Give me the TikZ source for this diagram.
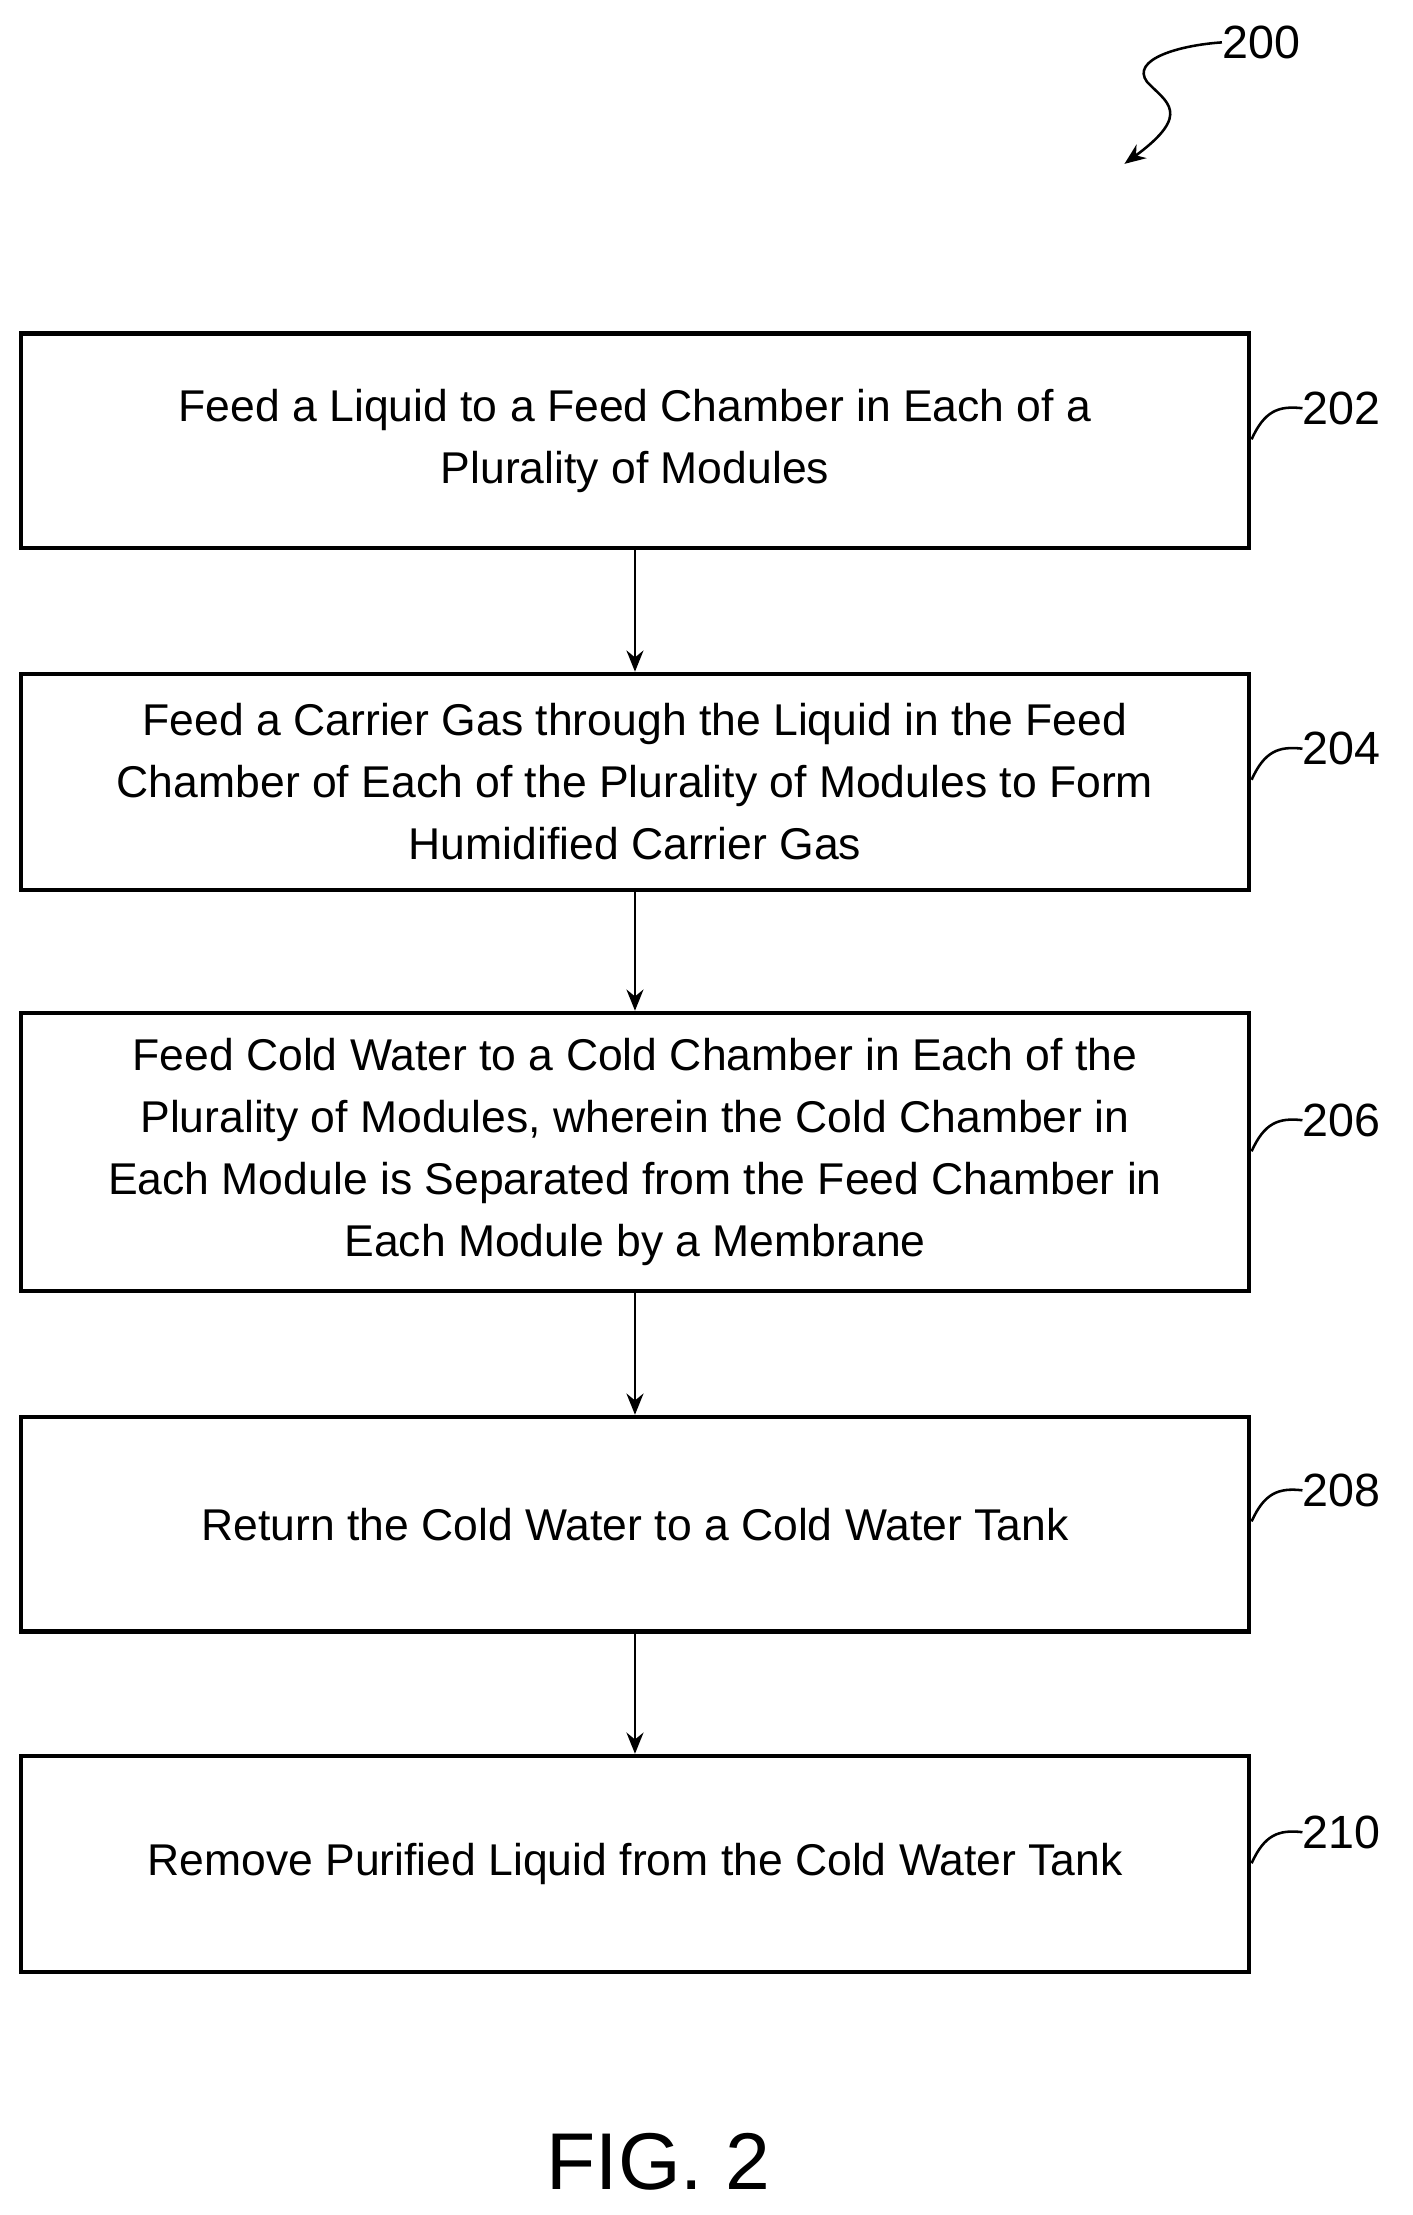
\documentclass[tikz,border=0pt]{standalone}
\usepackage{fontspec}
\setmainfont{Liberation Sans}
\usetikzlibrary{arrows.meta}
\begin{document}
\begin{tikzpicture}[x=1pt,y=-1pt,
  stepbox/.style={draw,line width=3pt,minimum width=869pt,inner sep=0pt,align=center,font=\fontsize{31.5}{44}\selectfont},
  flow/.style={line width=2pt,-{Stealth[length=15pt,width=12pt]}},
  lead/.style={line width=1.8pt},
  lbl/.style={font=\fontsize{33}{38}\selectfont,anchor=west,inner sep=0pt}]
\useasboundingbox (0,0) rectangle (1000,1568);
\node[stepbox,minimum height=152pt] (b1) at (449.5,312) {Feed a Liquid to a Feed Chamber in Each of a\\Plurality of Modules};
\node[stepbox,minimum height=153pt] (b2) at (449.5,553.5) {Feed a Carrier Gas through the Liquid in the Feed\\Chamber of Each of the Plurality of Modules to Form\\Humidified Carrier Gas};
\node[stepbox,minimum height=197pt] (b3) at (449.5,815.5) {Feed Cold Water to a Cold Chamber in Each of the\\Plurality of Modules, wherein the Cold Chamber in\\Each Module is Separated from the Feed Chamber in\\Each Module by a Membrane};
\node[stepbox,minimum height=152pt] (b4) at (449.5,1079) {Return the Cold Water to a Cold Water Tank};
\node[stepbox,minimum height=153pt] (b5) at (449.5,1319.5) {Remove Purified Liquid from the Cold Water Tank};
\draw[flow] (b1) -- (b2);
\draw[flow] (b2) -- (b3);
\draw[flow] (b3) -- (b4);
\draw[flow] (b4) -- (b5);
\foreach \b/\y/\t in {b1/289/202,b2/530/204,b3/793/206,b4/1055/208,b5/1297/210}{
  \node[lbl] (l\t) at (922,\y) {\t};
  \coordinate (s\t) at (886,\y+22);
  \draw[lead] (s\t) .. controls (895,\y+2) and (905,\y-2) .. (l\t.west);
}
\node[lbl] (l200) at (865,30) {200};
\coordinate (e200) at (796,116);
\draw[lead,-{Stealth[length=15pt,width=12pt]}] (l200.west) .. controls (835,32) and (800,42) .. (812,58)
  .. controls (825,72) and (845,80) .. (e200);
\node[font=\fontsize{57}{64}\selectfont] (fig) at (466,1530) {FIG. 2};
\end{tikzpicture}
\end{document}
